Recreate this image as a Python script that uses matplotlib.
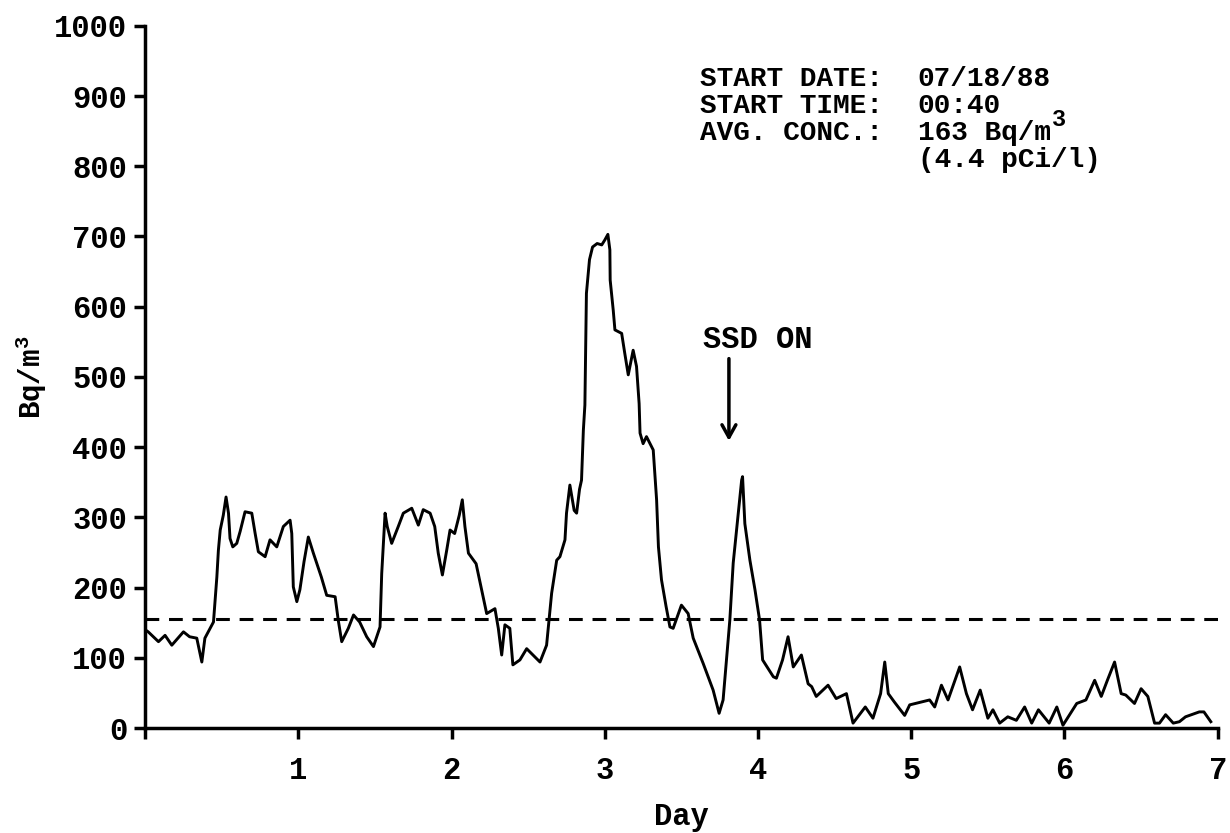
import matplotlib
matplotlib.use("Agg")
import matplotlib.pyplot as plt

# данные
day = [0.00, 0.02, 0.087, 0.13, 0.174, 0.25, 0.29, 0.337, 0.37, 0.39, 0.446, 0.468, 0.478, 0.49,
       0.51, 0.528, 0.544, 0.554, 0.572, 0.598, 0.62, 0.652, 0.696, 0.718, 0.739, 0.783, 0.815,
       0.859, 0.902, 0.946, 0.957, 0.967, 0.99, 1.01, 1.037, 1.065, 1.098, 1.15, 1.185, 1.24,
       1.26, 1.283, 1.326, 1.36, 1.40, 1.446, 1.49, 1.533, 1.544, 1.566, 1.58, 1.609, 1.652,
       1.685, 1.74, 1.783, 1.815, 1.86, 1.89, 1.913, 1.94, 1.968, 1.99, 2.02, 2.05, 2.07, 2.087,
       2.11, 2.16, 2.196, 2.229, 2.283, 2.305, 2.327, 2.348, 2.38, 2.40, 2.446, 2.49, 2.577,
       2.62, 2.63, 2.653, 2.686, 2.707, 2.74, 2.75, 2.772, 2.80, 2.816, 2.835, 2.848, 2.86, 2.87,
       2.88, 2.90, 2.92, 2.95, 2.98, 3.00, 3.02, 3.033, 3.035, 3.055, 3.066, 3.11, 3.13, 3.153,
       3.185, 3.207, 3.224, 3.23, 3.25, 3.272, 3.316, 3.338, 3.35, 3.37, 3.40, 3.425, 3.446,
       3.50, 3.544, 3.577, 3.642, 3.707, 3.746, 3.772, 3.794, 3.816, 3.838, 3.864, 3.893, 3.899,
       3.914, 3.947, 3.98, 4.01, 4.03, 4.10, 4.12, 4.16, 4.196, 4.23, 4.283, 4.327, 4.35, 4.38,
       4.457, 4.51, 4.577, 4.62, 4.70, 4.75, 4.80, 4.827, 4.85, 4.89, 4.957, 4.99, 5.12, 5.153,
       5.197, 5.24, 5.316, 5.36, 5.40, 5.45, 5.50, 5.533, 5.577, 5.63, 5.686, 5.74, 5.786, 5.83,
       5.90, 5.95, 5.99, 6.08, 6.14, 6.197, 6.24, 6.28, 6.327, 6.37, 6.40, 6.457, 6.50, 6.544,
       6.588, 6.62, 6.66, 6.71, 6.75, 6.79, 6.88, 6.91, 6.955]
conc = [140, 137, 123, 132, 118, 137, 130, 128, 94, 128, 151, 215, 253, 282,
        303, 329, 306, 270, 258, 263, 280, 308, 306, 277, 251, 244, 268,
        258, 287, 296, 277, 201, 180, 197, 237, 272, 249, 215, 189, 187,
        154, 123, 142, 161, 151, 130, 116, 144, 220, 306, 287, 263, 287,
        306, 313, 289, 311, 306, 287, 249, 218, 253, 282, 277, 303, 325, 287,
        249, 234, 197, 163, 170, 142, 104, 147, 142, 90, 97, 113, 94,
        118, 140, 192, 239, 244, 268, 306, 346, 310, 306, 340, 353, 424, 460,
        619, 667, 685, 690, 688, 695, 703, 681, 638, 595, 567, 562, 534, 503,
        538, 515, 462, 420, 405, 415, 396, 325, 258, 211, 173, 144, 142,
        175, 163, 128, 92, 54, 21, 40, 97, 154, 235, 291, 353, 358,
        291, 239, 197, 154, 97, 73, 71, 97, 130, 87, 104, 63, 59, 45,
        61, 42, 49, 7, 30, 14, 49, 94, 49, 37, 18, 33, 40, 30,
        61, 40, 87, 49, 26, 54, 14, 26, 7, 16, 11, 30, 7, 26,
        7, 30, 4, 35, 40, 68, 45, 68, 94, 49, 47, 35, 56, 45,
        7, 7, 19, 7, 9, 16, 23, 23, 9]
avg_level = 155
x_ticks = [0, 1, 2, 3, 4, 5, 6, 7]
x_labels = ['', '1', '2', '3', '4', '5', '6', '7']
y_ticks = [0, 100, 200, 300, 400, 500, 600, 700, 800, 900, 1000]

plt.rcParams['font.family'] = ['Liberation Mono', 'DejaVu Sans Mono']
plt.rcParams['font.weight'] = 'bold'
plt.rcParams['mathtext.fontset'] = 'custom'
plt.rcParams['mathtext.rm'] = 'Liberation Mono:bold'
plt.rcParams['mathtext.default'] = 'rm'

fig = plt.figure(figsize=(12.3, 8.33), dpi=100)
ax = fig.add_axes([0.118, 0.126, 0.872, 0.843])

ax.plot(day, conc, color='black', lw=2.1)
ax.axhline(avg_level, color='black', lw=2.2, dashes=(4.5, 3.2))

ax.set_xlim(0, 7)
ax.set_ylim(0, 1000)
ax.set_xticks(x_ticks)
ax.set_xticklabels(x_labels)
ax.set_yticks(y_ticks)

for s in ['top', 'right']:
    ax.spines[s].set_visible(False)
for s in ['left', 'bottom']:
    ax.spines[s].set_linewidth(2.5)
ax.tick_params(axis='both', direction='out', length=8, width=2.5, labelsize=22)
ax.tick_params(axis='x', pad=12)
ax.tick_params(axis='y', pad=5)

ax.set_xlabel('Day', fontsize=22, fontweight='bold', labelpad=12)
ax.set_ylabel('Bq/m$^3$', fontsize=21, fontweight='bold')
ax.yaxis.set_label_coords(-0.09, 0.5)

# блок с параметрами
info_left = ['START DATE:', 'START TIME:', 'AVG. CONC.:', '']
info_right = ['07/18/88', '00:40', '163 Bq/m', '(4.4 pCi/l)']
for i, (a, b) in enumerate(zip(info_left, info_right)):
    yy = 0.905 - i * 0.0324
    if a:
        fig.text(0.569, yy, a, fontsize=20, fontweight='bold', va='center')
    fig.text(0.746, yy, b, fontsize=20, fontweight='bold', va='center')
# степень 3 отдельно, чуть выше строки
fig.text(0.855, 0.905 - 2 * 0.0324 + 0.016, '3', fontsize=17, fontweight='bold', va='center')

ax.annotate('', xy=(3.81, 405), xytext=(3.81, 530),
            arrowprops=dict(arrowstyle='->,head_length=0.9,head_width=0.5', lw=2.5, color='black'))
ax.text(4.0, 553, 'SSD ON', fontsize=22, fontweight='bold', ha='center', va='center')

fig.savefig('out.png', dpi=100)
